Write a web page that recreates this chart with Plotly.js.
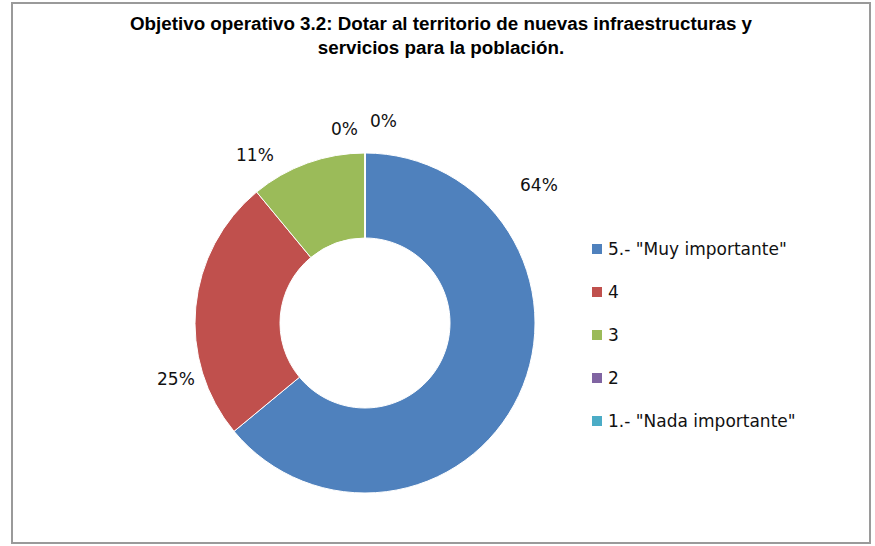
<!DOCTYPE html>
<html>
<head>
<meta charset="utf-8">
<script src="https://cdn.plot.ly/plotly-3.0.1.min.js"></script>
<style>html,body{margin:0;padding:0;background:#fff;}#chart{width:875px;height:546px;}</style>
</head>
<body>
<div id="chart"></div>
<script>
// ---- data ----
const categories = ['5.- "Muy importante"', '4', '3', '2', '1.- "Nada importante"'];
const values = [64, 25, 11, 0, 0];
const colors = ['#4F81BD', '#C0504D', '#9BBB59', '#8064A2', '#4BACC6'];
const titleText = 'Objetivo operativo 3.2: Dotar al territorio de nuevas infraestructuras y<br>servicios para la población.';

// ---- layout helpers (pixel positions) ----
const W = 875, H = 546;
const px = x => x / W;
const py = y => 1 - y / H;
const labelPos = [[539, 185], [176, 379], [255, 155], [344, 129], [383, 121]];
const cx = 365, cy = 323, R = 170;
const legendX = 592, legendY0 = 249, legendStep = 43, sq = 10;
const font = 'DejaVu Sans, Verdana, sans-serif';

const total = values.reduce((a, b) => a + b, 0);

const trace = {
  type: 'pie',
  labels: categories,
  values: values,
  hole: 0.5,
  sort: false,
  direction: 'clockwise',
  rotation: 0,
  textinfo: 'none',
  hoverinfo: 'label+percent',
  marker: {colors: colors, line: {color: '#ffffff', width: 1}},
  domain: {x: [px(cx - R), px(cx + R)], y: [py(cy + R), py(cy - R)]},
  showlegend: false
};

const annotations = [];
const shapes = [];

values.forEach((v, i) => {
  annotations.push({
    xref: 'paper', yref: 'paper',
    x: px(labelPos[i][0]), y: py(labelPos[i][1]),
    xanchor: 'center', yanchor: 'middle',
    text: Math.round(v / total * 100) + '%',
    showarrow: false,
    font: {family: font, size: 17, color: '#111111'}
  });
});

categories.forEach((c, i) => {
  const yc = legendY0 + i * legendStep;
  shapes.push({
    type: 'rect', xref: 'paper', yref: 'paper',
    x0: px(legendX), x1: px(legendX + sq),
    y0: py(yc + sq / 2), y1: py(yc - sq / 2),
    fillcolor: colors[i], line: {width: 0}
  });
  annotations.push({
    xref: 'paper', yref: 'paper',
    x: px(legendX + sq + 4), y: py(yc),
    xanchor: 'left', yanchor: 'middle',
    text: c, showarrow: false,
    font: {family: font, size: 17, color: '#111111'}
  });
});

shapes.push({
  type: 'rect', xref: 'paper', yref: 'paper',
  x0: px(12), x1: px(870), y0: py(543), y1: py(3),
  line: {color: '#9a9a9a', width: 2}
});

const layout = {
  width: W, height: H,
  margin: {l: 0, r: 0, t: 0, b: 0},
  paper_bgcolor: '#ffffff',
  title: {
    text: titleText,
    x: px(441), xanchor: 'center',
    y: py(30), yanchor: 'middle',
    font: {family: 'Liberation Sans, Arial, sans-serif', size: 18.8, color: '#000000', weight: 'bold'}
  },
  showlegend: false,
  annotations: annotations,
  shapes: shapes
};

Plotly.newPlot('chart', [trace], layout, {displayModeBar: false, staticPlot: true});
</script>
</body>
</html>
